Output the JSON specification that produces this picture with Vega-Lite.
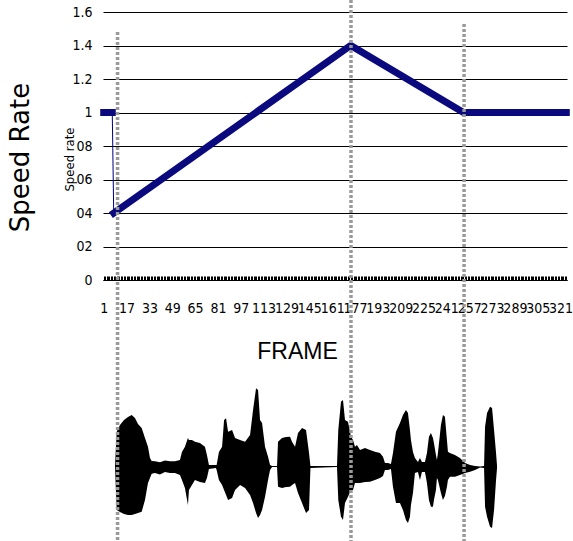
{
  "$schema": "https://vega.github.io/schema/vega-lite/v6.json",
  "width": 464,
  "height": 529,
  "autosize": {"type": "none"},
  "padding": {"left": 103, "top": 12, "right": 6, "bottom": 0},
  "background": "white",
  "title": {"text": "Speed Rate", "orient": "left", "anchor": "middle", "frame": "group", "font": "DejaVu Sans", "fontSize": 26, "fontWeight": "normal", "color": "black", "dx": 119, "offset": 29},
  "config": {
    "view": {"stroke": null},
    "axisX": {
      "labelOverlap": false,
      "labelFlush": false,
      "labelBound": false,
      "ticks": true,
      "tickSize": -4,
      "tickColor": "black",
      "tickWidth": 1,
      "tickOpacity": 1,
      "grid": false,
      "domain": true,
      "domainColor": "black",
      "domainWidth": 1
    }
  },
  "datasets": {
    "speed": [
      {"frame": 1, "rate": 1.0, "seg": "a"},
      {"frame": 7, "rate": 1.0, "seg": "a"},
      {"frame": 8, "rate": 0.4, "seg": "b"},
      {"frame": 174, "rate": 1.4, "seg": "b"},
      {"frame": 253, "rate": 1.0, "seg": "b"},
      {"frame": 325, "rate": 1.0, "seg": "b"}
    ],
    "marks": [
      {"frame": 10.7, "top": 1.48, "bottom": -1.558},
      {"frame": 174.2, "top": 1.672, "bottom": -1.558},
      {"frame": 253.4, "top": 1.528, "bottom": -1.558}
    ],
    "wave": [
      {"frame": 8.9, "hi": 0.006, "lo": -0.006},
      {"frame": 10.1, "hi": 0.435, "lo": -0.544},
      {"frame": 12.4, "hi": 0.519, "lo": -0.569},
      {"frame": 15.2, "hi": 0.581, "lo": -0.594},
      {"frame": 18.0, "hi": 0.619, "lo": -0.606},
      {"frame": 20.6, "hi": 0.644, "lo": -0.606},
      {"frame": 22.9, "hi": 0.606, "lo": -0.594},
      {"frame": 25.0, "hi": 0.531, "lo": -0.581},
      {"frame": 27.6, "hi": 0.481, "lo": -0.565},
      {"frame": 29.9, "hi": 0.356, "lo": -0.419},
      {"frame": 32.0, "hi": 0.248, "lo": -0.206},
      {"frame": 33.4, "hi": 0.106, "lo": -0.144},
      {"frame": 34.6, "hi": 0.07, "lo": -0.09},
      {"frame": 36.9, "hi": 0.066, "lo": -0.08},
      {"frame": 40.4, "hi": 0.054, "lo": -0.1},
      {"frame": 43.9, "hi": 0.075, "lo": -0.07},
      {"frame": 47.4, "hi": 0.066, "lo": -0.08},
      {"frame": 50.9, "hi": 0.066, "lo": -0.08},
      {"frame": 54.4, "hi": 0.081, "lo": -0.106},
      {"frame": 55.8, "hi": 0.181, "lo": -0.169},
      {"frame": 57.9, "hi": 0.248, "lo": -0.269},
      {"frame": 60.0, "hi": 0.356, "lo": -0.481},
      {"frame": 60.7, "hi": 0.331, "lo": -0.294},
      {"frame": 62.8, "hi": 0.331, "lo": -0.231},
      {"frame": 64.9, "hi": 0.31, "lo": -0.169},
      {"frame": 68.4, "hi": 0.294, "lo": -0.194},
      {"frame": 71.9, "hi": 0.248, "lo": -0.206},
      {"frame": 73.3, "hi": 0.144, "lo": -0.144},
      {"frame": 74.7, "hi": 0.019, "lo": -0.031},
      {"frame": 79.6, "hi": 0.019, "lo": -0.019},
      {"frame": 80.1, "hi": 0.019, "lo": -0.044},
      {"frame": 81.7, "hi": 0.181, "lo": -0.169},
      {"frame": 83.9, "hi": 0.248, "lo": -0.231},
      {"frame": 85.3, "hi": 0.581, "lo": -0.294},
      {"frame": 86.7, "hi": 0.603, "lo": -0.356},
      {"frame": 88.1, "hi": 0.435, "lo": -0.419},
      {"frame": 90.9, "hi": 0.456, "lo": -0.394},
      {"frame": 93.0, "hi": 0.356, "lo": -0.294},
      {"frame": 96.5, "hi": 0.331, "lo": -0.231},
      {"frame": 100.0, "hi": 0.31, "lo": -0.269},
      {"frame": 103.5, "hi": 0.394, "lo": -0.356},
      {"frame": 105.6, "hi": 0.706, "lo": -0.456},
      {"frame": 107.7, "hi": 0.978, "lo": -0.581},
      {"frame": 109.1, "hi": 0.956, "lo": -0.644},
      {"frame": 110.5, "hi": 0.581, "lo": -0.606},
      {"frame": 111.9, "hi": 0.544, "lo": -0.544},
      {"frame": 114.0, "hi": 0.248, "lo": -0.378},
      {"frame": 116.1, "hi": 0.123, "lo": -0.169},
      {"frame": 117.5, "hi": 0.019, "lo": -0.044},
      {"frame": 118.9, "hi": 0.006, "lo": -0.006},
      {"frame": 122.4, "hi": 0.006, "lo": -0.006},
      {"frame": 123.1, "hi": 0.31, "lo": -0.253},
      {"frame": 125.9, "hi": 0.356, "lo": -0.269},
      {"frame": 128.7, "hi": 0.369, "lo": -0.256},
      {"frame": 131.5, "hi": 0.373, "lo": -0.253},
      {"frame": 132.9, "hi": 0.31, "lo": -0.231},
      {"frame": 135.0, "hi": 0.248, "lo": -0.206},
      {"frame": 137.1, "hi": 0.419, "lo": -0.331},
      {"frame": 139.9, "hi": 0.481, "lo": -0.456},
      {"frame": 142.7, "hi": 0.456, "lo": -0.581},
      {"frame": 144.8, "hi": 0.169, "lo": -0.544},
      {"frame": 145.8, "hi": 0.006, "lo": -0.019},
      {"frame": 164.4, "hi": 0.006, "lo": -0.006},
      {"frame": 165.3, "hi": 0.456, "lo": -0.419},
      {"frame": 167.2, "hi": 0.81, "lo": -0.628},
      {"frame": 168.6, "hi": 0.831, "lo": -0.669},
      {"frame": 170.0, "hi": 0.581, "lo": -0.456},
      {"frame": 172.1, "hi": 0.56, "lo": -0.378},
      {"frame": 174.2, "hi": 0.373, "lo": -0.294},
      {"frame": 175.6, "hi": 0.331, "lo": -0.294},
      {"frame": 177.0, "hi": 0.248, "lo": -0.206},
      {"frame": 178.4, "hi": 0.269, "lo": -0.206},
      {"frame": 180.5, "hi": 0.206, "lo": -0.206},
      {"frame": 184.0, "hi": 0.231, "lo": -0.194},
      {"frame": 187.5, "hi": 0.206, "lo": -0.19},
      {"frame": 191.0, "hi": 0.185, "lo": -0.169},
      {"frame": 194.5, "hi": 0.169, "lo": -0.144},
      {"frame": 196.6, "hi": 0.123, "lo": -0.119},
      {"frame": 198.0, "hi": 0.044, "lo": -0.044},
      {"frame": 200.1, "hi": 0.044, "lo": -0.044},
      {"frame": 202.2, "hi": 0.031, "lo": -0.031},
      {"frame": 203.6, "hi": 0.169, "lo": -0.253},
      {"frame": 205.7, "hi": 0.435, "lo": -0.456},
      {"frame": 208.5, "hi": 0.544, "lo": -0.456},
      {"frame": 210.6, "hi": 0.644, "lo": -0.544},
      {"frame": 212.7, "hi": 0.706, "lo": -0.669},
      {"frame": 214.1, "hi": 0.669, "lo": -0.706},
      {"frame": 215.5, "hi": 0.456, "lo": -0.628},
      {"frame": 216.2, "hi": 0.331, "lo": -0.481},
      {"frame": 217.6, "hi": 0.181, "lo": -0.331},
      {"frame": 219.0, "hi": 0.106, "lo": -0.081},
      {"frame": 221.1, "hi": 0.056, "lo": -0.069},
      {"frame": 222.5, "hi": 0.106, "lo": -0.169},
      {"frame": 223.9, "hi": 0.056, "lo": -0.069},
      {"frame": 226.0, "hi": 0.056, "lo": -0.069},
      {"frame": 227.4, "hi": 0.169, "lo": -0.206},
      {"frame": 228.8, "hi": 0.373, "lo": -0.419},
      {"frame": 230.2, "hi": 0.419, "lo": -0.503},
      {"frame": 231.6, "hi": 0.356, "lo": -0.503},
      {"frame": 232.3, "hi": 0.294, "lo": -0.419},
      {"frame": 233.7, "hi": 0.144, "lo": -0.294},
      {"frame": 234.4, "hi": 0.081, "lo": -0.144},
      {"frame": 235.1, "hi": 0.169, "lo": -0.169},
      {"frame": 237.2, "hi": 0.519, "lo": -0.331},
      {"frame": 238.6, "hi": 0.644, "lo": -0.419},
      {"frame": 240.0, "hi": 0.623, "lo": -0.369},
      {"frame": 241.4, "hi": 0.331, "lo": -0.253},
      {"frame": 242.1, "hi": 0.185, "lo": -0.169},
      {"frame": 243.5, "hi": 0.169, "lo": -0.128},
      {"frame": 247.0, "hi": 0.144, "lo": -0.128},
      {"frame": 250.5, "hi": 0.106, "lo": -0.106},
      {"frame": 254.1, "hi": 0.044, "lo": -0.081},
      {"frame": 257.6, "hi": 0.019, "lo": -0.065},
      {"frame": 261.1, "hi": 0.006, "lo": -0.044},
      {"frame": 264.6, "hi": 0.0, "lo": -0.013},
      {"frame": 267.4, "hi": 0.006, "lo": -0.019},
      {"frame": 268.1, "hi": 0.498, "lo": -0.503},
      {"frame": 269.5, "hi": 0.669, "lo": -0.628},
      {"frame": 271.6, "hi": 0.748, "lo": -0.753},
      {"frame": 273.0, "hi": 0.731, "lo": -0.769},
      {"frame": 274.4, "hi": 0.456, "lo": -0.544},
      {"frame": 275.8, "hi": 0.169, "lo": -0.169},
      {"frame": 276.5, "hi": 0.006, "lo": -0.019}
    ]
  },
  "resolve": {"scale": {"y": "independent"}},
  "layer": [
    {
      "layer": [
        {
          "data": {"name": "speed"},
          "mark": {"type": "line", "color": "#000080", "strokeWidth": 1},
          "encoding": {
            "x": {
              "field": "frame", "type": "quantitative",
              "scale": {"domain": [0.5, 325.5], "nice": false, "zero": false},
              "axis": {
                "values": [1,2,3,4,5,6,7,8,9,10,11,12,13,14,15,16,17,18,19,20,21,22,23,24,25,26,27,28,29,30,31,32,33,34,35,36,37,38,39,40,41,42,43,44,45,46,47,48,49,50,51,52,53,54,55,56,57,58,59,60,61,62,63,64,65,66,67,68,69,70,71,72,73,74,75,76,77,78,79,80,81,82,83,84,85,86,87,88,89,90,91,92,93,94,95,96,97,98,99,100,101,102,103,104,105,106,107,108,109,110,111,112,113,114,115,116,117,118,119,120,121,122,123,124,125,126,127,128,129,130,131,132,133,134,135,136,137,138,139,140,141,142,143,144,145,146,147,148,149,150,151,152,153,154,155,156,157,158,159,160,161,162,163,164,165,166,167,168,169,170,171,172,173,174,175,176,177,178,179,180,181,182,183,184,185,186,187,188,189,190,191,192,193,194,195,196,197,198,199,200,201,202,203,204,205,206,207,208,209,210,211,212,213,214,215,216,217,218,219,220,221,222,223,224,225,226,227,228,229,230,231,232,233,234,235,236,237,238,239,240,241,242,243,244,245,246,247,248,249,250,251,252,253,254,255,256,257,258,259,260,261,262,263,264,265,266,267,268,269,270,271,272,273,274,275,276,277,278,279,280,281,282,283,284,285,286,287,288,289,290,291,292,293,294,295,296,297,298,299,300,301,302,303,304,305,306,307,308,309,310,311,312,313,314,315,316,317,318,319,320,321,322,323,324,325],
                "tickCount": 1000,
                "labelExpr": "(datum.value - 1) % 16 == 0 ? '' + datum.value : ''",
                "labelOverlap": false,
                "labelFlush": false,
                "labelFont": "DejaVu Sans Condensed, sans-serif",
                "labelFontSize": 14,
                "labelColor": "black",
                "labelPadding": 25,
                "ticks": true, "tickSize": -4, "tickColor": "black", "tickWidth": 1,
                "domain": true, "domainColor": "black", "domainWidth": 1,
                "grid": false,
                "offset": -261,
                "title": "FRAME",
                "titleFont": "Liberation Sans, Arial, sans-serif",
                "titleFontSize": 23,
                "titleFontWeight": "normal",
                "titleColor": "black",
                "titleX": 194,
                "titleY": 71,
                "titleAlign": "center",
                "titleBaseline": "middle"
              }
            },
            "y": {
              "field": "rate", "type": "quantitative",
              "scale": {"domain": [-1.5582, 1.6], "nice": false, "zero": false},
              "axis": {
                "values": [0, 0.2, 0.4, 0.6, 0.8, 1, 1.2, 1.4, 1.6],
                "tickCount": 100,
                "labelExpr": "datum.value == 0 ? '0' : datum.value >= 1 ? format(datum.value, '.2~f') : '0' + format(datum.value * 10, '.0f')",
                "grid": true, "gridColor": "black", "gridWidth": 1.2, "gridOpacity": 1,
                "domain": false, "ticks": false,
                "labelFont": "DejaVu Sans Condensed, sans-serif",
                "labelFontSize": 14,
                "labelColor": "black",
                "labelPadding": 11,
                "title": "Speed rate",
                "titleFont": "DejaVu Sans Condensed, sans-serif",
                "titleFontSize": 13,
                "titleFontWeight": "normal",
                "titleColor": "black",
                "titleX": -34,
                "titleY": 147,
                "titleAlign": "center",
                "titleBaseline": "middle",
                "titleAngle": 270
              }
            }
          }
        },
        {
          "data": {"name": "speed"},
          "mark": {"type": "line", "color": "#0A0A7E", "strokeWidth": 7, "strokeCap": "square", "strokeJoin": "miter"},
          "encoding": {
            "x": {"field": "frame", "type": "quantitative", "scale": {"domain": [0.5, 325.5], "nice": false, "zero": false}, "title": "FRAME"},
            "y": {"field": "rate", "type": "quantitative", "title": "Speed rate"},
            "detail": {"field": "seg"}
          }
        },
        {
          "mark": {"type": "rule", "color": "black", "strokeWidth": 1.2},
          "encoding": {
            "x": {"datum": 0.5, "type": "quantitative"},
            "y": {"datum": 0, "type": "quantitative"},
            "y2": {"datum": 1.6}
          }
        },
        {
          "mark": {"type": "rule", "color": "#444444", "strokeWidth": 1},
          "encoding": {
            "x": {"datum": 325.5, "type": "quantitative"},
            "y": {"datum": 0, "type": "quantitative"},
            "y2": {"datum": 1.6}
          }
        }
      ]
    },
    {
      "layer": [
        {
          "data": {"name": "wave"},
          "mark": {"type": "area", "color": "black", "opacity": 1},
          "encoding": {
            "x": {"field": "frame", "type": "quantitative", "scale": {"domain": [0.5, 325.5], "nice": false, "zero": false}, "title": "FRAME"},
            "y": {"field": "hi", "type": "quantitative", "scale": {"domain": [-0.93125, 5.68125], "nice": false, "zero": false}, "axis": null},
            "y2": {"field": "lo"}
          }
        },
        {
          "mark": {"type": "rule", "color": "black", "strokeWidth": 2},
          "encoding": {
            "x": {"datum": -0.4, "type": "quantitative"},
            "x2": {"datum": 326.2},
            "y": {"datum": 0, "type": "quantitative", "axis": null}
          }
        }
      ]
    },
    {
      "data": {"name": "marks"},
      "mark": {"type": "rule", "color": "#999999", "strokeWidth": 3.5, "strokeDash": [3, 2]},
      "encoding": {
        "x": {"field": "frame", "type": "quantitative", "scale": {"domain": [0.5, 325.5], "nice": false, "zero": false}, "title": "FRAME"},
        "y": {"field": "top", "type": "quantitative", "scale": {"domain": [-1.5582, 1.6], "nice": false, "zero": false}, "axis": null},
        "y2": {"field": "bottom"}
      }
    }
  ]
}
